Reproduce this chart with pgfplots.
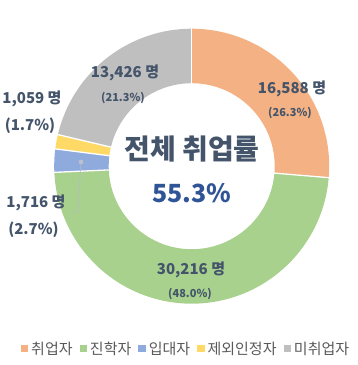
\documentclass[border=0pt]{standalone}
\usepackage{pgfplots}
\pgfplotsset{compat=1.18}
\usepackage{fontspec}
\setmainfont{Noto Sans CJK KR}
\definecolor{cA}{HTML}{F4B183}
\definecolor{cB}{HTML}{A9D18E}
\definecolor{cC}{HTML}{8FAADC}
\definecolor{cD}{HTML}{FFD966}
\definecolor{cE}{HTML}{BFBFBF}
\definecolor{lab}{HTML}{44546A}
\definecolor{big}{HTML}{2F5597}
\definecolor{leg}{HTML}{595959}
% counts (thousands of persons)
\def\nA{16.588}\def\nB{30.216}\def\nC{1.716}\def\nD{1.059}\def\nE{13.426}
\pgfmathsetmacro\tot{\nA+\nB+\nC+\nD+\nE}
\pgfmathsetmacro\bA{0}
\pgfmathsetmacro\bB{\bA+\nA/\tot*360}
\pgfmathsetmacro\bC{\bB+\nB/\tot*360}
\pgfmathsetmacro\bD{\bC+\nC/\tot*360}
\pgfmathsetmacro\bE{\bD+\nD/\tot*360}
\pgfmathsetmacro\bF{360}
\def\cx{191.7}\def\cy{166.2}\def\rmid{110.25}
\newcommand\legtxt[1]{\fontsize{15}{17}\selectfont\color{leg}#1}
\begin{document}
\begin{tikzpicture}
\begin{axis}[
  x=1pt, y=1pt, y dir=reverse,
  xmin=0, xmax=357, ymin=0, ymax=365,
  hide axis, clip=false,
  legend style={at={(axis cs:185,349)}, anchor=center, draw=none, fill=none,
    legend columns=5,
    nodes={inner sep=0pt},
    /tikz/every odd column/.append style={column sep=3.5pt},
    /tikz/every even column/.append style={column sep=7pt},
    cells={anchor=west}},
  legend image code/.code={\fill[#1] (0pt,-2.5pt) rectangle (6.5pt,4pt);},
]
\addplot[draw=none, forget plot] coordinates {(0,0) (357,365)};
\addplot[cA, line width=54.5pt, domain=\bA:\bB, samples=70, variable=\t, forget plot] ({\cx+\rmid*sin(t)},{\cy-\rmid*cos(t)});
\addplot[cB, line width=54.5pt, domain=\bB:\bC, samples=120, variable=\t, forget plot] ({\cx+\rmid*sin(t)},{\cy-\rmid*cos(t)});
\addplot[cC, line width=54.5pt, domain=\bC:\bD, samples=10, variable=\t, forget plot] ({\cx+\rmid*sin(t)},{\cy-\rmid*cos(t)});
\addplot[cD, line width=54.5pt, domain=\bD:\bE, samples=10, variable=\t, forget plot] ({\cx+\rmid*sin(t)},{\cy-\rmid*cos(t)});
\addplot[cE, line width=54.5pt, domain=\bE:\bF, samples=60, variable=\t, forget plot] ({\cx+\rmid*sin(t)},{\cy-\rmid*cos(t)});
\foreach \a in {\bA,\bB,\bC,\bD,\bE}{
  \addplot[white, line width=1.3pt, domain=82.5:138, samples=2, variable=\r, forget plot] ({\cx+\r*sin(\a)},{\cy-\r*cos(\a)});
}
% leader line
\addplot[color=lab!40, line width=0.6pt, mark=*, mark size=2pt, mark indices={1}, forget plot,
  mark options={fill=lab!35, draw=lab!35}] coordinates {(81,162) (78,212) (72,212)};
\addlegendimage{cA}\addlegendentry{\legtxt{취업자}}
\addlegendimage{cB}\addlegendentry{\legtxt{진학자}}
\addlegendimage{cC}\addlegendentry{\legtxt{입대자}}
\addlegendimage{cD}\addlegendentry{\legtxt{제외인정자}}
\addlegendimage{cE}\addlegendentry{\legtxt{미취업자}}
% labels
\begin{scope}[every node/.style={text=lab, font=\bfseries, inner sep=0pt}]
\node[font=\fontsize{15}{17}\bfseries\selectfont] at (axis cs:292,89) {16,588 명};
\node[font=\fontsize{11}{13}\bfseries\selectfont] at (axis cs:290,113) {(26.3\%)};
\node[font=\fontsize{15}{17}\bfseries\selectfont] at (axis cs:125,73) {13,426 명};
\node[font=\fontsize{11}{13}\bfseries\selectfont] at (axis cs:123,98) {(21.3\%)};
\node[font=\fontsize{15}{17}\bfseries\selectfont] at (axis cs:32,99) {1,059 명};
\node[font=\fontsize{15}{17}\bfseries\selectfont] at (axis cs:30,126) {(1.7\%)};
\node[font=\fontsize{15}{17}\bfseries\selectfont] at (axis cs:36,203) {1,716 명};
\node[font=\fontsize{15}{17}\bfseries\selectfont] at (axis cs:33.5,230) {(2.7\%)};
\node[font=\fontsize{15}{17}\bfseries\selectfont] at (axis cs:191,270) {30,216 명};
\node[font=\fontsize{11}{13}\bfseries\selectfont] at (axis cs:190,294) {(48.0\%)};
\node[font=\fontsize{28}{31}\bfseries\selectfont] at (axis cs:192,149) {전체 취업률};
\node[font=\fontsize{25}{28}\bfseries\selectfont, text=big] at (axis cs:192,193) {55.3\%};
\end{scope}
\end{axis}
\end{tikzpicture}
\end{document}
